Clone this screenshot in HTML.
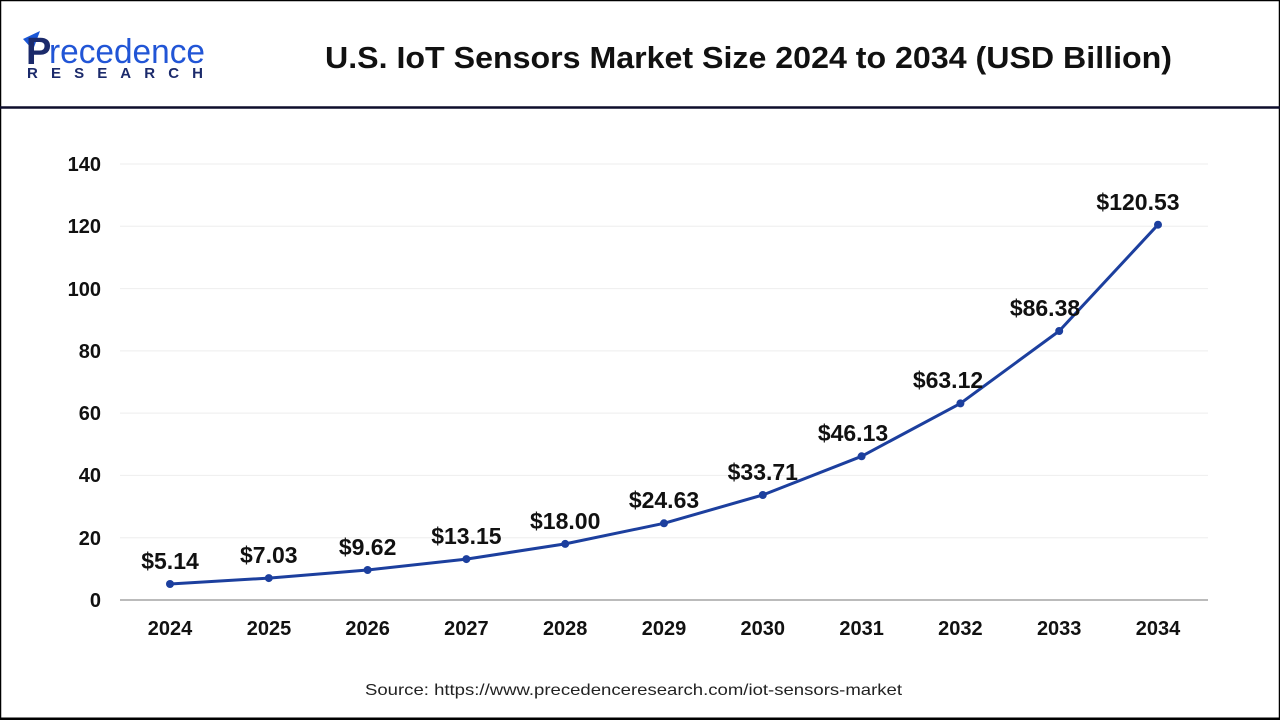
<!DOCTYPE html>
<html><head><meta charset="utf-8"><style>
body{margin:0;width:1280px;height:720px;background:#fff;overflow:hidden;font-family:"Liberation Sans",sans-serif}
</style></head><body>
<svg width="1280" height="720" viewBox="0 0 1280 720" xmlns="http://www.w3.org/2000/svg" font-family="Liberation Sans, sans-serif">
<rect x="0.5" y="0.5" width="1279" height="719" fill="#fff" stroke="#000" stroke-width="1.5"/>
<line x1="0" y1="107.5" x2="1280" y2="107.5" stroke="#0d0d2b" stroke-width="2.5"/>
<line x1="0" y1="718.5" x2="1280" y2="718.5" stroke="#000" stroke-width="2"/>
<path d="M23 39 L40 31 L33 50 Z" fill="#1a56d6"/>
<text x="26" y="64" font-size="38" fill="#1b2a6b" font-weight="bold">P</text>
<text x="49" y="63" font-size="34" fill="#2155d6" textLength="156" lengthAdjust="spacingAndGlyphs">recedence</text>
<text x="27" y="78" font-size="15" fill="#1b2a6b" font-weight="bold" textLength="176" lengthAdjust="spacing">RESEARCH</text>
<text x="325" y="68" font-size="31" font-weight="bold" fill="#111" textLength="847" lengthAdjust="spacingAndGlyphs">U.S. IoT Sensors Market Size 2024 to 2034 (USD Billion)</text>
<g stroke="#eee" stroke-width="1">
<line x1="120" y1="164" x2="1208" y2="164"/><line x1="120" y1="226.3" x2="1208" y2="226.3"/>
<line x1="120" y1="288.6" x2="1208" y2="288.6"/><line x1="120" y1="350.9" x2="1208" y2="350.9"/>
<line x1="120" y1="413.1" x2="1208" y2="413.1"/><line x1="120" y1="475.4" x2="1208" y2="475.4"/>
<line x1="120" y1="537.7" x2="1208" y2="537.7"/>
</g>
<line x1="120" y1="600" x2="1208" y2="600" stroke="#bbb" stroke-width="2"/>
<g font-size="20" font-weight="bold" fill="#111" text-anchor="end">
<text x="101" y="171">140</text><text x="101" y="233">120</text><text x="101" y="296">100</text>
<text x="101" y="358">80</text><text x="101" y="420">60</text><text x="101" y="482">40</text>
<text x="101" y="545">20</text><text x="101" y="607">0</text>
</g>
<g font-size="20" font-weight="bold" fill="#111" text-anchor="middle">
<text x="170" y="635">2024</text><text x="269" y="635">2025</text><text x="367.6" y="635">2026</text>
<text x="466.4" y="635">2027</text><text x="565.2" y="635">2028</text><text x="664" y="635">2029</text>
<text x="762.8" y="635">2030</text><text x="861.6" y="635">2031</text><text x="960.4" y="635">2032</text>
<text x="1059.2" y="635">2033</text><text x="1158" y="635">2034</text>
</g>
<polyline fill="none" stroke="#1c3f9e" stroke-width="3" stroke-linejoin="round" points="170,584 268.8,578.1 367.6,570 466.4,559.1 565.2,543.9 664,523.3 762.8,495 861.6,456.3 960.4,403.4 1059.2,331 1158,224.7"/>
<g fill="#1c3f9e">
<circle cx="170" cy="584" r="4"/><circle cx="268.8" cy="578.1" r="4"/><circle cx="367.6" cy="570" r="4"/>
<circle cx="466.4" cy="559.1" r="4"/><circle cx="565.2" cy="543.9" r="4"/><circle cx="664" cy="523.3" r="4"/>
<circle cx="762.8" cy="495" r="4"/><circle cx="861.6" cy="456.3" r="4"/><circle cx="960.4" cy="403.4" r="4"/>
<circle cx="1059.2" cy="331" r="4"/><circle cx="1158" cy="224.7" r="4"/>
</g>
<g font-size="23" font-weight="bold" fill="#111" text-anchor="middle">
<text x="170" y="569">$5.14</text><text x="268.8" y="563">$7.03</text><text x="367.6" y="555">$9.62</text>
<text x="466.4" y="544">$13.15</text><text x="565.2" y="529">$18.00</text><text x="664" y="508">$24.63</text>
<text x="762.8" y="480">$33.71</text><text x="853" y="441">$46.13</text><text x="948" y="388">$63.12</text>
<text x="1045" y="316">$86.38</text><text x="1138" y="210">$120.53</text>
</g>
<text x="365" y="695" font-size="16" fill="#222" textLength="537" lengthAdjust="spacingAndGlyphs">Source: https://www.precedenceresearch.com/iot-sensors-market</text>
</svg>
</body></html>
